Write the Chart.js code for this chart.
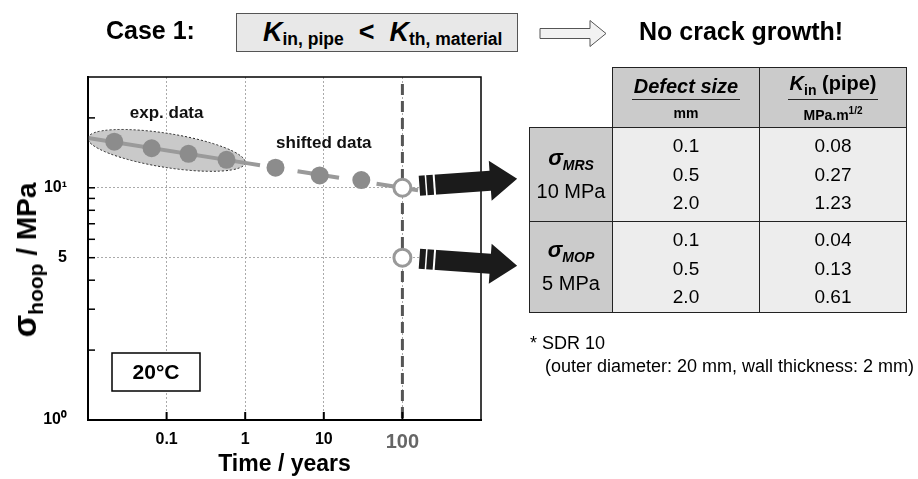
<!DOCTYPE html>
<html>
<head>
<meta charset="utf-8">
<script src="https://cdn.jsdelivr.net/npm/chart.js@4.4.1/dist/chart.umd.min.js"></script>
<style>
  body { margin: 0; background: #fff; font-family: 'Liberation Sans', Arial, sans-serif; }
  #wrap { position: relative; width: 918px; height: 479px; overflow: hidden; }
  #wrap canvas { position: absolute; left: 0; top: 0; }
  .abs { position: absolute; white-space: nowrap; }
  #caso { left: 106px; top: 16px; font-size: 25px; font-weight: bold; }
  #cond { left: 236px; top: 13px; width: 254px; height: 37px; padding-left: 26px; background: #e8e8e8; border: 1px solid #555;
          text-align: left; font-weight: bold; font-size: 27px; line-height: 36px; }
  #cond sub { font-size: 17.5px; vertical-align: -4px; }
  #seta { left: 539px; top: 19px; }
  #resultado { left: 639px; top: 17px; font-size: 25px; font-weight: bold; }
  #ytitulo { left: 27px; top: 260px; transform: translate(-50%, -50%) rotate(-90deg); font-size: 28px; font-weight: bold; }
  #ytitulo .sig { font-size: 33px; }
  #ytitulo sub { font-size: 21px; vertical-align: -7px; }
  #tabela { left: 529px; top: 67px; border-collapse: collapse; font-size: 19px; }
  #tabela td { border: 1px solid #222; text-align: center; padding: 0; }
  #tabela td.vazio { border: none; background: #fff; }
  #tabela td.cab { background: #cbcbcb; height: 59px; font-weight: bold; }
  #tabela td.lin { background: #cbcbcb; width: 82px; font-size: 20px; line-height: 26px; }
  #tabela td.val { background: #ededed; width: 146px; vertical-align: top; padding-top: 4px; }
  #tabela tr.g1 td { height: 89px; }
  #tabela tr.g2 td { height: 82px; }
  #tabela tr.g1 td.lin, #tabela tr.g2 td.lin { height: auto; }
  #tabela .ul { display: inline-block; border-bottom: 1.5px solid #222; font-size: 20px; padding: 0 2px 1px; }
  #tabela .un { font-size: 14px; display: block; margin-top: 5px; }
  #tabela .linha { height: 28.5px; line-height: 28.5px; }
  #tabela .sg { font-weight: bold; font-style: italic; font-size: 22px; }
  #tabela .sg sub { font-size: 14px; }
  #nota1 { left: 530px; top: 333px; font-size: 18px; }
  #nota2 { left: 545px; top: 356px; font-size: 18px; }
</style>
</head>
<body>
<div id="wrap">
  <canvas id="graficoTensao" width="918" height="479"></canvas>
  <div class="abs" id="caso">Case 1:</div>
  <div class="abs" id="cond"><i>K</i><sub>in, pipe</sub> &nbsp;&lt;&nbsp; <i>K</i><sub>th, material</sub></div>
  <svg class="abs" id="seta" width="70" height="30">
    <polygon points="1,9.5 51,9.5 51,1.5 67,14.5 51,27.5 51,19.5 1,19.5" fill="#f2f2f2" stroke="#555" stroke-width="1"/>
  </svg>
  <div class="abs" id="resultado">No crack growth!</div>
  <div class="abs" id="ytitulo"><span class="sig">σ</span><sub>hoop</sub> / MPa</div>
  <table class="abs" id="tabela"></table>
  <div class="abs" id="nota1">* SDR 10</div>
  <div class="abs" id="nota2">(outer diameter: 20 mm, wall thickness: 2 mm)</div>
</div>
<script>
// dados (tempo em anos, tensão em MPa)
const tempoExp = [0.0216, 0.0645, 0.19, 0.578];
const tensaoExp = [15.8, 14.8, 14.0, 13.2];
const tempoDesloc = [2.43, 8.87, 30];
const tensaoDesloc = [12.2, 11.3, 10.8];
const tempoPrev = [100, 100];
const tensaoPrev = [10, 5];
const tempoAjuste = [0.01, 1, 350];
const tensaoAjuste = [16.4, 12.8, 9.35];
const ticksX = [0.1, 1, 10, 100];
const ticksY = [1, 2, 3, 4, 5, 6, 7, 8, 9, 10, 20];

// tabela
const tamanhoDefeito = ['0.1', '0.5', '2.0'];
const kinMRS = ['0.08', '0.27', '1.23'];
const kinMOP = ['0.04', '0.13', '0.61'];

const fonte = "'Liberation Sans', Arial, sans-serif";

const tabela = document.getElementById('tabela');
let html = '<tr><td class="vazio"></td>' +
  '<td class="cab"><span class="ul"><i>Defect size</i></span><span class="un">mm</span></td>' +
  '<td class="cab"><span class="ul"><i>K</i><sub style="font-size:14px">in</sub> (pipe)</span><span class="un">MPa.m<sup style="font-size:10px">1/2</sup></span></td></tr>';
const grupos = [
  { nome: 'MRS', valor: '10 MPa', k: kinMRS, cls: 'g1' },
  { nome: 'MOP', valor: '5 MPa', k: kinMOP, cls: 'g2' }
];
grupos.forEach(g => {
  html += '<tr class="' + g.cls + '"><td class="lin"><span class="sg">σ<sub>' + g.nome + '</sub></span><br>' + g.valor + '</td>';
  html += '<td class="val">' + tamanhoDefeito.map(d => '<div class="linha">' + d + '</div>').join('') + '</td>';
  html += '<td class="val">' + g.k.map(v => '<div class="linha">' + v + '</div>').join('') + '</td></tr>';
});
tabela.innerHTML = html;

const pontos = (xs, ys) => xs.map((v, i) => ({ x: v, y: ys[i] }));

function desenhaSeta(ctx, sx, sy, ang) {
  const L = 98, corpo = 10, cabeca = 20, compCabeca = 27;
  ctx.save();
  ctx.translate(sx, sy);
  ctx.rotate(ang);
  ctx.beginPath();
  ctx.moveTo(0, -corpo);
  ctx.lineTo(L - compCabeca, -corpo);
  ctx.lineTo(L - compCabeca, -cabeca);
  ctx.lineTo(L, 0);
  ctx.lineTo(L - compCabeca, cabeca);
  ctx.lineTo(L - compCabeca, corpo);
  ctx.lineTo(0, corpo);
  ctx.closePath();
  ctx.fillStyle = '#1b1b1b';
  ctx.fill();
  ctx.fillStyle = '#fff';
  ctx.fillRect(6, -corpo - 1, 1.5, 2 * corpo + 2);
  ctx.fillRect(14, -corpo - 1, 2, 2 * corpo + 2);
  ctx.restore();
}

const decoracao = {
  id: 'decoracao',
  beforeDatasetsDraw(chart) {
    const { ctx, chartArea: a, scales: { x, y } } = chart;
    const x1 = x.getPixelForValue(tempoAjuste[0]), y1 = y.getPixelForValue(tensaoAjuste[0]);
    const x2 = x.getPixelForValue(tempoAjuste[1]), y2 = y.getPixelForValue(tensaoAjuste[1]);
    ctx.save();
    ctx.beginPath();
    ctx.ellipse((x1 + x2) / 2, (y1 + y2) / 2, Math.hypot(x2 - x1, y2 - y1) / 2, 17, Math.atan2(y2 - y1, x2 - x1), 0, Math.PI * 2);
    ctx.fillStyle = '#c9c9c9';
    ctx.fill();
    ctx.setLineDash([2, 2]);
    ctx.strokeStyle = '#222';
    ctx.lineWidth = 1;
    ctx.stroke();

    const xv = x.getPixelForValue(100);
    ctx.setLineDash([11, 6]);
    ctx.strokeStyle = '#555';
    ctx.lineWidth = 3;
    ctx.beginPath();
    ctx.moveTo(xv, a.top + 7);
    ctx.lineTo(xv, a.bottom);
    ctx.stroke();
    ctx.restore();
  },
  afterDraw(chart) {
    const { ctx, chartArea: a, scales: { x, y } } = chart;
    ctx.save();
    // moldura
    ctx.strokeStyle = '#000';
    ctx.lineWidth = 1.5;
    ctx.strokeRect(a.left, a.top, a.right - a.left, a.bottom - a.top);
    // ticks para dentro
    ctx.lineWidth = 1.5;
    ticksY.filter(v => v > 1).forEach(v => {
      const py = y.getPixelForValue(v);
      ctx.beginPath(); ctx.moveTo(a.left, py); ctx.lineTo(a.left + 7, py); ctx.stroke();
    });
    ctx.lineWidth = 2;
    ticksX.forEach(v => {
      const px = x.getPixelForValue(v);
      ctx.beginPath(); ctx.moveTo(px, a.bottom); ctx.lineTo(px, a.bottom - 8); ctx.stroke();
    });
    // rótulos
    ctx.fillStyle = '#111';
    ctx.font = 'bold 17px ' + fonte;
    ctx.textAlign = 'center';
    ctx.textBaseline = 'middle';
    ctx.fillText('exp. data', x.getPixelForValue(0.1), y.getPixelForValue(21));
    ctx.fillText('shifted data', x.getPixelForValue(10), y.getPixelForValue(15.5));
    // caixa 20°C
    const bx = a.left + 24, by = a.bottom - 67;
    ctx.fillStyle = '#fff';
    ctx.fillRect(bx, by, 88, 38);
    ctx.lineWidth = 1.5;
    ctx.strokeRect(bx, by, 88, 38);
    ctx.fillStyle = '#000';
    ctx.font = 'bold 21px ' + fonte;
    ctx.fillText('20°C', bx + 44, by + 20);
    ctx.restore();
    // setas para a tabela
    const xs = x.getPixelForValue(100) + 17;
    desenhaSeta(ctx, xs, y.getPixelForValue(10) - 2, Math.atan2(-7, 98));
    desenhaSeta(ctx, xs, y.getPixelForValue(5) + 1, Math.atan2(7, 98));
  }
};

const ctx = document.getElementById('graficoTensao').getContext('2d');

new Chart(ctx, {
  type: 'scatter',
  data: {
    datasets: [
      {
        label: 'previsão',
        data: pontos(tempoPrev, tensaoPrev),
        pointRadius: 8.5,
        pointBackgroundColor: '#fff',
        pointBorderColor: '#999',
        pointBorderWidth: 3,
        showLine: false,
        order: 0
      },
      {
        label: 'dados',
        data: pontos(tempoExp.concat(tempoDesloc), tensaoExp.concat(tensaoDesloc)),
        pointRadius: 9,
        pointBackgroundColor: '#8c8c8c',
        pointBorderColor: '#8c8c8c',
        pointBorderWidth: 0,
        showLine: false,
        order: 1
      },
      {
        label: 'ajuste',
        data: pontos(tempoAjuste, tensaoAjuste),
        showLine: true,
        pointRadius: 0,
        borderColor: '#9a9a9a',
        borderWidth: 4,
        segment: {
          borderDash: c => c.p0DataIndex >= 1 ? [42, 38] : undefined,
          borderDashOffset: c => c.p0DataIndex >= 1 ? 27 : 0
        },
        order: 2
      }
    ]
  },
  options: {
    responsive: false,
    animation: false,
    layout: { padding: { top: 77, right: 437, left: 0, bottom: 0 } },
    plugins: { legend: { display: false }, tooltip: { enabled: false } },
    scales: {
      x: {
        type: 'logarithmic',
        min: 0.01,
        max: 1000,
        afterBuildTicks: s => { s.ticks = ticksX.map(v => ({ value: v })); },
        afterFit: s => { s.height = 59; },
        grid: { color: '#aaa', lineWidth: 1, drawTicks: false },
        border: { display: true, color: '#000', width: 2, dash: [2, 2] },
        ticks: {
          padding: 10,
          autoSkip: false,
          maxRotation: 0,
          color: c => c.tick && c.tick.value === 100 ? '#666' : '#000',
          font: c => ({ family: fonte, weight: 'bold', size: c.tick && c.tick.value === 100 ? 20 : 16 }),
          callback: v => String(v)
        },
        title: {
          display: true,
          text: 'Time / years',
          color: '#000',
          font: { family: fonte, size: 23, weight: 'bold' },
          padding: { top: 0, bottom: 1 }
        }
      },
      y: {
        type: 'logarithmic',
        min: 1,
        max: 30,
        afterBuildTicks: s => { s.ticks = ticksY.map(v => ({ value: v })); },
        afterFit: s => { s.width = 88; },
        grid: {
          color: c => c.tick && (c.tick.value === 5 || c.tick.value === 10) ? '#aaa' : 'rgba(0,0,0,0)',
          lineWidth: 1,
          drawTicks: false
        },
        border: { display: true, color: '#000', width: 2, dash: [2, 2] },
        ticks: {
          padding: 21,
          autoSkip: false,
          color: '#000',
          font: { family: fonte, weight: 'bold', size: 16 },
          callback: v => v === 1 ? '10⁰' : v === 10 ? '10¹' : v === 5 ? '5' : ''
        }
      }
    }
  },
  plugins: [decoracao]
});
</script>
</body>
</html>
